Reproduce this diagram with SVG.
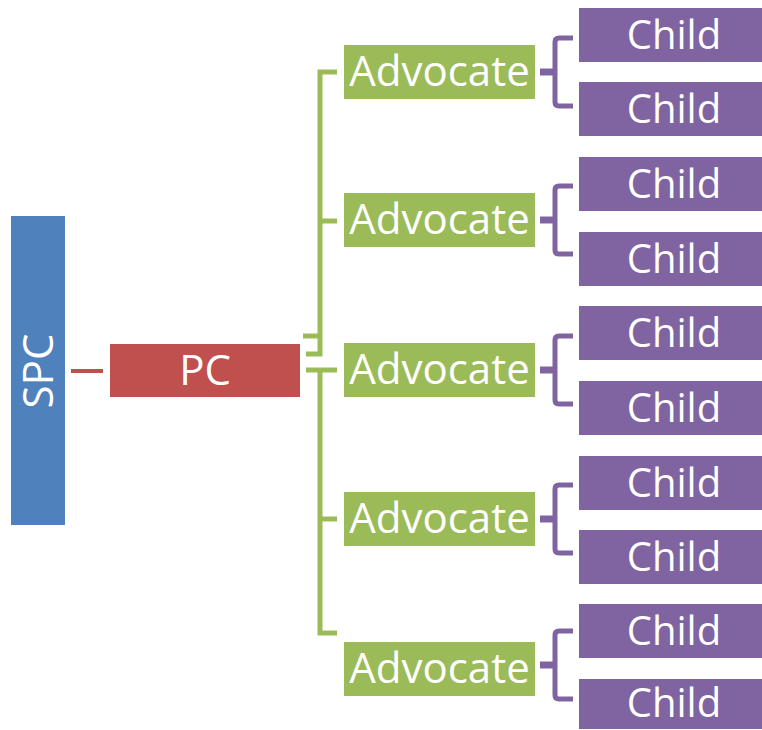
<svg xmlns="http://www.w3.org/2000/svg" width="762" height="730" viewBox="0 0 762 730">
<style>
text{font-family:"Open Sans","Noto Sans","Liberation Sans",sans-serif;fill:#fff;text-anchor:middle}
.adv rect{fill:#9BBB59}
.adv text{font-size:42px}
.child rect{fill:#8064A2}
.child text{font-size:40px}
.g{fill:none;stroke:#9BBB59;stroke-width:5}
.p{fill:none;stroke:#8064A2;stroke-width:5}
.ps{fill:none;stroke:#8064A2;stroke-width:7}
</style>
<rect width="762" height="730" fill="#fff"/>
<g id="connectors">
<path d="M71,371H103" stroke="#C0504D" stroke-width="4" fill="none"/>
<path class="g" d="M337,72H320V354H306M320,221H337M303,336H320"/>
<path class="g" d="M306,370H337M320,370V633H337M320,519H337"/>
<path class="p" d="M573,38H559Q555,38 555,42V102Q555,106 559,106H573"/><path class="ps" d="M540,72H555"/>
<path class="p" d="M573,186H559Q555,186 555,190V250Q555,254 559,254H573"/><path class="ps" d="M540,220H555"/>
<path class="p" d="M573,336H559Q555,336 555,340V400Q555,404 559,404H573"/><path class="ps" d="M540,370H555"/>
<path class="p" d="M573,485H559Q555,485 555,489V549Q555,553 559,553H573"/><path class="ps" d="M540,519H555"/>
<path class="p" d="M573,631H559Q555,631 555,635V695Q555,699 559,699H573"/><path class="ps" d="M540,665H555"/>
</g>
<g id="spc"><rect x="11" y="216" width="54" height="309" fill="#4F81BD"/><text transform="translate(53,371) rotate(-90)" font-size="42">SPC</text></g>
<g id="pc"><rect x="110" y="344" width="190" height="53" fill="#C0504D"/><text x="205" y="385" font-size="42">PC</text></g>
<g id="adv1" class="adv"><rect x="344" y="45" width="191" height="54"/><text x="439.5" y="86">Advocate</text></g>
<g id="adv2" class="adv"><rect x="344" y="193" width="191" height="54"/><text x="439.5" y="234">Advocate</text></g>
<g id="adv3" class="adv"><rect x="344" y="343" width="191" height="54"/><text x="439.5" y="384">Advocate</text></g>
<g id="adv4" class="adv"><rect x="344" y="492" width="191" height="54"/><text x="439.5" y="533">Advocate</text></g>
<g id="adv5" class="adv"><rect x="344" y="642" width="191" height="54"/><text x="439.5" y="683">Advocate</text></g>
<g id="child1" class="child"><rect x="579" y="8" width="183" height="54"/><text x="674" y="49">Child</text></g>
<g id="child2" class="child"><rect x="579" y="82" width="183" height="54"/><text x="674" y="123">Child</text></g>
<g id="child3" class="child"><rect x="579" y="157" width="183" height="54"/><text x="674" y="198">Child</text></g>
<g id="child4" class="child"><rect x="579" y="232" width="183" height="54"/><text x="674" y="273">Child</text></g>
<g id="child5" class="child"><rect x="579" y="306" width="183" height="54"/><text x="674" y="347">Child</text></g>
<g id="child6" class="child"><rect x="579" y="381" width="183" height="54"/><text x="674" y="422">Child</text></g>
<g id="child7" class="child"><rect x="579" y="456" width="183" height="54"/><text x="674" y="497">Child</text></g>
<g id="child8" class="child"><rect x="579" y="530" width="183" height="54"/><text x="674" y="571">Child</text></g>
<g id="child9" class="child"><rect x="579" y="604" width="183" height="54"/><text x="674" y="645">Child</text></g>
<g id="child10" class="child"><rect x="579" y="679" width="183" height="50"/><text x="674" y="717">Child</text></g>
</svg>
